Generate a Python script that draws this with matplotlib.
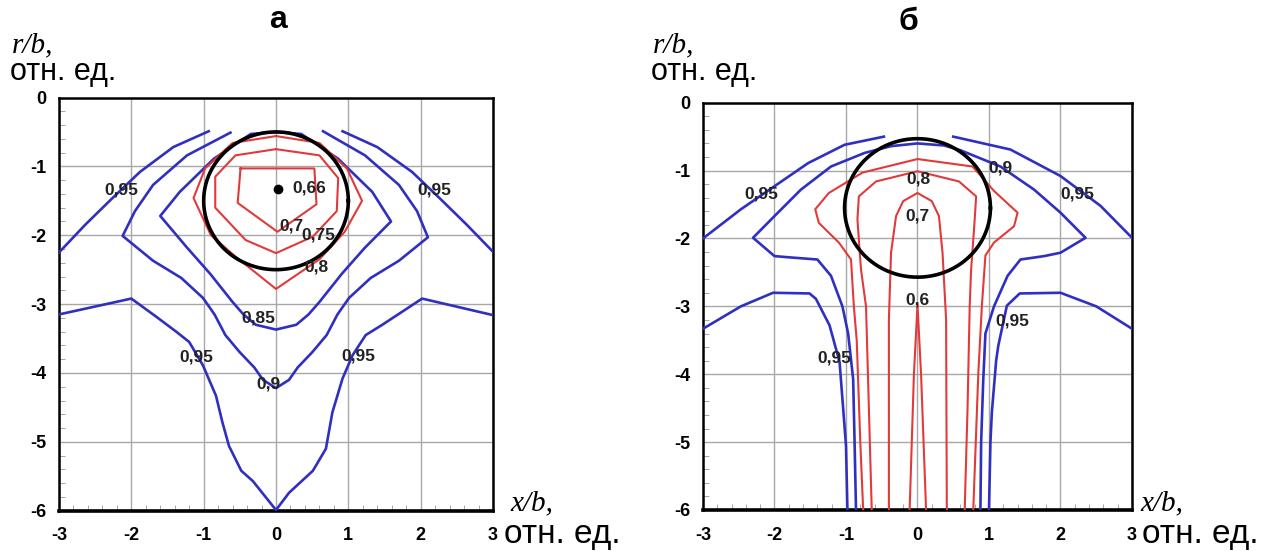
import matplotlib

matplotlib.use("Agg")
import matplotlib.pyplot as plt  # noqa: E402
import numpy as np  # noqa: E402

plt.rcParams["font.family"] = ["Liberation Sans", "DejaVu Sans"]

BLUE = "#3030c0"
RED = "#e23a3a"

X_TICKS = [-3, -2, -1, 0, 1, 2, 3]
X_TICKLABELS = ["-3", "-2", "-1", "0", "1", "2", "3"]
Y_TICKS = [0, -1, -2, -3, -4, -5, -6]
Y_TICKLABELS = ["0", "-1", "-2", "-3", "-4", "-5", "-6"]

# ---- panel a: contour lines (x/b, r/b) ----
a_095_ul_x = [-3.0, -2.63, -2.26, -1.88, -1.42, -0.93]
a_095_ul_y = [-2.25, -1.84, -1.46, -1.08, -0.72, -0.49]
a_095_ur_x = [0.92, 1.4, 1.88, 2.26, 2.63, 3.0]
a_095_ur_y = [-0.49, -0.72, -1.08, -1.46, -1.84, -2.24]
a_095_lo_x = [-3.0, -2.0, -1.66, -1.38, -1.2, -1.01, -0.83, -0.74, -0.65, -0.48, -0.32,
              0.0, 0.18, 0.51, 0.69, 0.78, 0.92, 1.06, 1.24, 1.47, 2.02, 3.0]
a_095_lo_y = [-3.15, -2.92, -3.18, -3.4, -3.55, -3.89, -4.33, -4.72, -5.06, -5.42, -5.57,
              -5.99, -5.74, -5.42, -5.1, -4.57, -4.08, -3.74, -3.45, -3.3, -2.92, -3.16]
a_090_x = [-0.63, -1.23, -1.7, -1.95, -2.12, -1.7, -1.31, -1.01, -0.85, -0.7, -0.5, -0.3, -0.18,
           0.0, 0.18, 0.3, 0.5, 0.7, 0.85, 1.01, 1.31, 1.7, 2.1, 1.95, 1.7, 1.23, 0.65]
a_090_y = [-0.51, -0.84, -1.27, -1.65, -2.01, -2.37, -2.62, -2.91, -3.15, -3.45, -3.7, -3.92, -4.1,
           -4.22, -4.1, -3.92, -3.7, -3.45, -3.15, -2.91, -2.62, -2.37, -2.03, -1.65, -1.27, -0.84, -0.49]
a_085_x = [0.0, -0.35, -0.86, -1.33, -1.6, -1.23, -0.91, -0.6, -0.45, -0.28, 0.0,
           0.28, 0.45, 0.6, 0.91, 1.23, 1.59, 1.33, 0.86, 0.35, 0.0]
a_085_y = [-0.5, -0.53, -0.89, -1.37, -1.72, -2.18, -2.56, -2.97, -3.15, -3.3, -3.37,
           -3.3, -3.15, -2.97, -2.56, -2.18, -1.8, -1.37, -0.89, -0.53, -0.5]
a_080_x = [0.0, -0.6, -0.98, -1.14, -0.9, -0.56, 0.0, 0.6, 0.95, 1.19, 0.98, 0.6, 0.0]
a_080_y = [-0.56, -0.66, -1.03, -1.46, -2.0, -2.31, -2.78, -2.35, -1.95, -1.5, -1.03, -0.66, -0.56]
a_075_x = [0.0, -0.56, -0.84, -0.84, -0.42, 0.0, 0.51, 0.84, 0.86, 0.6, 0.0]
a_075_y = [-0.75, -0.84, -1.15, -1.6, -2.07, -2.26, -2.02, -1.65, -1.17, -0.84, -0.75]
a_070_x = [-0.49, 0.53, 0.56, 0.02, -0.53, -0.49]
a_070_y = [-1.03, -1.03, -1.55, -1.95, -1.53, -1.03]
a_circle = (0.0, -1.5, 1.0)          # centre x, centre y, radius
a_point = (0.03, -1.33)
a_labels = [("0,95", -2.14, -1.34), ("0,95", 2.19, -1.34), ("0,66", 0.46, -1.32),
            ("0,7", 0.22, -1.86), ("0,75", 0.58, -2.0), ("0,8", 0.56, -2.46),
            ("0,85", -0.25, -3.2), ("0,95", -1.1, -3.77), ("0,95", 1.14, -3.75),
            ("0,9", -0.11, -4.16)]

# ---- panel b ----
b_095_ul_x = [-3.0, -2.47, -2.0, -1.53, -1.02, -0.47]
b_095_ul_y = [-2.0, -1.57, -1.23, -0.89, -0.62, -0.5]
b_095_ur_x = [0.5, 1.3, 2.0, 2.56, 3.0]
b_095_ur_y = [-0.5, -0.69, -1.08, -1.52, -1.99]
b_095_ll_x = [-3.0, -2.47, -2.02, -1.51, -1.42, -1.23, -1.09, -1.04, -1.0, -0.98]
b_095_ll_y = [-3.33, -3.0, -2.8, -2.81, -2.89, -3.28, -3.82, -4.5, -5.05, -6.0]
b_095_lr_x = [1.0, 1.02, 1.04, 1.1, 1.13, 1.25, 1.43, 2.0, 2.5, 3.0]
b_095_lr_y = [-6.0, -5.0, -4.56, -3.8, -3.58, -2.99, -2.81, -2.8, -3.0, -3.33]
b_090_x = [-0.86, -0.88, -0.9, -0.97, -1.05, -1.21, -1.4, -1.77, -2.0, -2.3, -2.0, -1.63, -1.21,
           -0.74, -0.37, 0.0, 0.37, 0.6, 1.16, 1.63, 2.0, 2.35, 2.0, 1.77, 1.44, 1.26, 1.07,
           0.95, 0.92, 0.89, 0.88]
b_090_y = [-6.0, -5.0, -4.07, -3.4, -3.0, -2.55, -2.31, -2.28, -2.26, -1.99, -1.67, -1.28, -0.94,
           -0.74, -0.64, -0.6, -0.63, -0.7, -0.94, -1.28, -1.62, -1.99, -2.21, -2.26, -2.31, -2.55,
           -3.0, -3.4, -4.07, -5.0, -6.0]
b_085_x = [-0.76, -0.8, -0.85, -0.89, -0.93, -1.1, -1.38, -1.43, -1.24, -0.77, 0.0,
           0.77, 1.07, 1.4, 1.35, 1.07, 0.95, 0.9, 0.85, 0.78]
b_085_y = [-6.0, -5.0, -3.5, -3.0, -2.31, -2.06, -1.77, -1.57, -1.33, -1.03, -0.83,
           -0.94, -1.3, -1.62, -1.82, -2.06, -2.25, -3.0, -4.0, -6.0]
b_080_x = [-0.64, -0.68, -0.72, -0.79, -0.84, -0.82, -0.58, 0.0,
           0.58, 0.82, 0.8, 0.75, 0.73, 0.7, 0.66]
b_080_y = [-6.0, -4.5, -3.0, -2.46, -1.72, -1.38, -1.16, -1.01,
           -1.16, -1.38, -1.72, -2.46, -3.0, -4.5, -6.0]
b_070_x = [-0.4, -0.4, -0.37, -0.3, -0.2, 0.0, 0.2, 0.3, 0.35, 0.4, 0.41]
b_070_y = [-6.0, -3.19, -2.21, -1.67, -1.45, -1.33, -1.45, -1.67, -2.21, -3.19, -6.0]
b_060_x = [-0.11, -0.05, 0.0, 0.05, 0.12]
b_060_y = [-6.0, -4.0, -2.98, -4.0, -6.0]
b_circle = (0.0, -1.55, 1.02)
b_labels = [("0,95", -2.18, -1.35), ("0,9", 1.16, -0.96), ("0,95", 2.24, -1.35),
            ("0,8", 0.02, -1.13), ("0,7", 0.0, -1.67), ("0,6", 0.0, -2.9),
            ("0,95", 1.32, -3.22), ("0,95", -1.16, -3.76)]


def setup_axes(ax):
    ax.set_xlim(-3, 3)
    ax.set_ylim(-6, 0)
    ax.set_xticks(X_TICKS)
    ax.set_xticklabels(X_TICKLABELS, fontweight="bold", fontsize=13)
    ax.set_yticks(Y_TICKS)
    ax.set_yticklabels(Y_TICKLABELS, fontweight="bold", fontsize=13)
    ax.set_xticks(np.arange(-3, 3.01, 0.2), minor=True)
    ax.set_yticks(np.arange(-6, 0.01, 0.2), minor=True)
    ax.tick_params(which="major", length=0)
    ax.tick_params(axis="x", which="major", pad=12)
    ax.tick_params(axis="y", which="major", pad=9)
    ax.tick_params(which="minor", direction="in", length=4, color="#999999",
                   top=False, right=False)
    ax.grid(True, which="major", color="#a8a8a8", lw=1.0)
    ax.set_axisbelow(True)
    for s in ax.spines.values():
        s.set_linewidth(1.8)
        s.set_color("black")
    ax.spines["bottom"].set_linewidth(2.6)


def draw_circle(ax, c):
    t = np.linspace(0, 2 * np.pi, 300)
    ax.plot(c[0] + c[2] * np.cos(t), c[1] + c[2] * np.sin(t), color="black", lw=2.6, zorder=4)


def draw_labels(ax, labels):
    for s, x, y in labels:
        ax.text(x, y, s, ha="center", va="center", fontsize=12.5, fontweight="bold",
                color="#222222", zorder=5)


fig = plt.figure(figsize=(12.7, 5.51), dpi=100)
ax_a = fig.add_axes([59 / 1270, 1 - 510.7 / 551, 434 / 1270, 413.2 / 551])
ax_b = fig.add_axes([703 / 1270, 1 - 510 / 551, 429 / 1270, 407.3 / 551])

for ax in (ax_a, ax_b):
    setup_axes(ax)

# panel a
for xs, ys in [(a_095_ul_x, a_095_ul_y), (a_095_ur_x, a_095_ur_y), (a_095_lo_x, a_095_lo_y),
               (a_090_x, a_090_y), (a_085_x, a_085_y)]:
    ax_a.plot(xs, ys, color=BLUE, lw=1.9, zorder=3)
for xs, ys in [(a_080_x, a_080_y), (a_075_x, a_075_y), (a_070_x, a_070_y)]:
    ax_a.plot(xs, ys, color=RED, lw=1.5, zorder=3)
draw_circle(ax_a, a_circle)
ax_a.plot(*a_point, "o", color="black", ms=6, zorder=5)
draw_labels(ax_a, a_labels)

# panel b
for xs, ys in [(b_095_ul_x, b_095_ul_y), (b_095_ur_x, b_095_ur_y), (b_095_ll_x, b_095_ll_y),
               (b_095_lr_x, b_095_lr_y), (b_090_x, b_090_y)]:
    ax_b.plot(xs, ys, color=BLUE, lw=1.9, zorder=3)
for xs, ys in [(b_085_x, b_085_y), (b_080_x, b_080_y), (b_070_x, b_070_y), (b_060_x, b_060_y)]:
    ax_b.plot(xs, ys, color=RED, lw=1.5, zorder=3)
draw_circle(ax_b, b_circle)
draw_labels(ax_b, b_labels)


def ftext(px, py, s, **kw):
    fig.text(px / 1270, 1 - py / 551, s, **kw)


serif = dict(family=["Liberation Serif", "DejaVu Serif"], style="italic", fontsize=21)
sans_top = dict(fontsize=22)
sans_bot = dict(fontsize=24)

ftext(278, 20, "а", ha="center", va="center", fontsize=23, fontweight="bold")
ftext(908, 22, "б", ha="center", va="center", fontsize=23, fontweight="bold")

ftext(12, 45, "r/b,", ha="left", va="center", **serif)
ftext(10, 72, "отн. ед.", ha="left", va="center", **sans_top)
ftext(653, 45, "r/b,", ha="left", va="center", **serif)
ftext(651, 72, "отн. ед.", ha="left", va="center", **sans_top)

ftext(510, 503, "x/b,", ha="left", va="center", **serif)
ftext(504, 534, "отн. ед.", ha="left", va="center", **sans_bot)
ftext(1140, 503, "x/b,", ha="left", va="center", **serif)
ftext(1142, 534, "отн. ед.", ha="left", va="center", **sans_bot)

fig.savefig("out.png", dpi=100)
plt.close(fig)
